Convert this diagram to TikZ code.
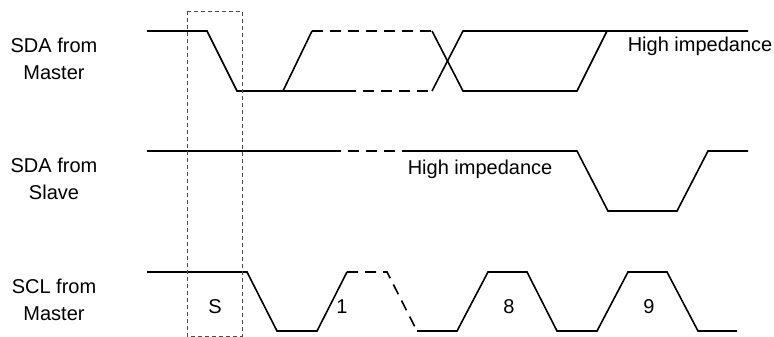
\documentclass[tikz,border=0pt]{standalone}
\usepackage{fontspec}
\setmainfont{Liberation Sans}
\usetikzlibrary{calc, positioning}

\begin{document}
\begin{tikzpicture}[x=1pt, y=-1pt, line width=1.6pt,
  every node/.style={font=\fontsize{20}{27}\selectfont, inner sep=0pt}]
\def\hiA{31}
\def\loA{91}
\def\hiB{151}
\def\loB{211}
\def\hiC{272}
\def\loC{331}
\useasboundingbox (0,0) rectangle (774,337);

\coordinate (BoxTL) at (187,11);
\coordinate (BoxBR) at (242,336);
\coordinate (Start) at (147,0);
\coordinate (Hz1) at (627,52);
\coordinate (Hz2) at (407,174);

\draw ($(Start)+(0,\hiA)$) -- (207,\hiA) -- (237,\loA) -- (345,\loA);
\draw (283,\loA) -- (312,\hiA);
\draw[dash pattern=on 11pt off 7pt] (312,\hiA) -- (432,\hiA);
\draw[dash pattern=on 11pt off 7pt] (345,\loA) -- (432,\loA);
\draw (432,\hiA) -- (463,\loA) -- (577,\loA) -- (607,\hiA);
\draw (432,\loA) -- (463,\hiA) -- (748,\hiA);

\draw ($(Start)+(0,\hiB)$) -- (330,\hiB);
\draw[dash pattern=on 11pt off 7pt] (330,\hiB) -- (412,\hiB);
\draw (412,\hiB) -- (577,\hiB) -- (608,\loB) -- (677,\loB) -- (708,\hiB) -- (748,\hiB);

\draw ($(Start)+(0,\hiC)$) -- (247,\hiC) -- (277,\loC) -- (317,\loC) -- (347,\hiC);
\draw[dash pattern=on 11pt off 7pt] (347,\hiC) -- (387,\hiC) -- (417,\loC);
\draw (417,\loC) -- (457,\loC) -- (488,\hiC) -- (527,\hiC) -- (557,\loC) -- (597,\loC)
  -- (628,\hiC) -- (667,\hiC) -- (698,\loC) -- (737,\loC);

\draw[black!70, line width=0.8pt, dash pattern=on 4pt off 3pt] (BoxTL) rectangle (BoxBR);

\node[align=center] (SdaMaster) at (54,59) {SDA from\\Master};
\node[align=center] (SdaSlave) at (54,179) {SDA from\\Slave};
\node[align=center] (SclMaster) at (54,300) {SCL from\\Master};
\node[anchor=base west] (HiZMaster) at (Hz1) {High impedance};
\node[anchor=base west] (HiZSlave) at (Hz2) {High impedance};
\node[anchor=base] (BitS) at (215,313) {S};
\node[anchor=base] (BitOne) at (342,313) {1};
\node[anchor=base] (BitEight) at (509,313) {8};
\node[anchor=base] (BitNine) at (649,313) {9};
\end{tikzpicture}
\end{document}
